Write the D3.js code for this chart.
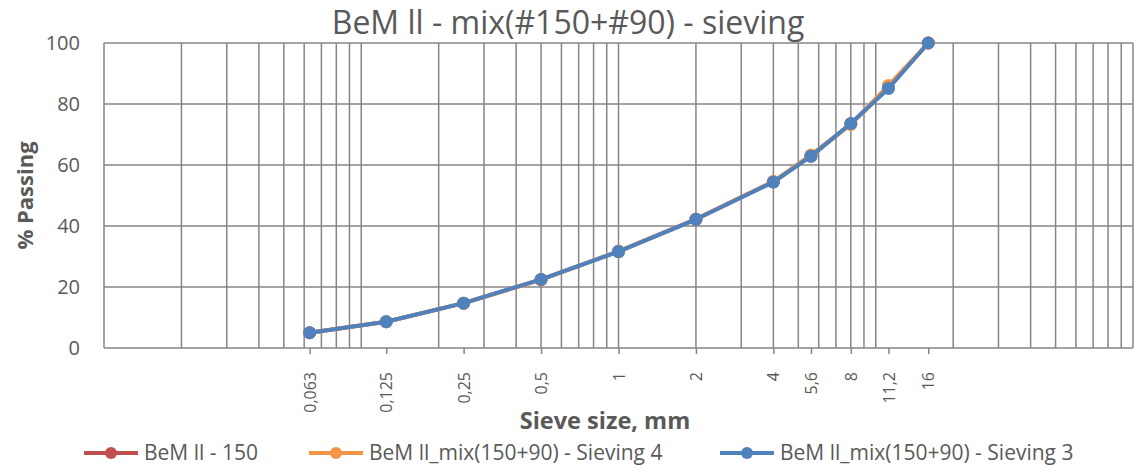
<!DOCTYPE html>
<html>
<head>
<meta charset="utf-8">
<script src="https://cdn.jsdelivr.net/npm/d3@7"></script>
<style>
  body { margin: 0; background: #fff; }
  text { font-family: "Open Sans", "Liberation Sans", sans-serif; fill: #595959; }
</style>
</head>
<body>
<div id="chart"></div>
<script>
// sieve sizes (mm) and their labels
const sieves = [0.063, 0.125, 0.25, 0.5, 1, 2, 4, 5.6, 8, 11.2, 16];
const sieveLabels = ['0,063', '0,125', '0,25', '0,5', '1', '2', '4', '5,6', '8', '11,2', '16'];

const seriesNames = ['BeM ll - 150', 'BeM ll_mix(150+90) - Sieving 4', 'BeM ll_mix(150+90) - Sieving 3'];
const bem150 = [5.0, 8.6, 14.7, 22.4, 31.7, 42.2, 54.5, 62.9, 73.5, 85.3, 100];
const sieving4 = [5.0, 8.6, 14.7, 22.4, 31.7, 42.3, 54.6, 63.3, 73.3, 86.1, 100];
const sieving3 = [5.0, 8.6, 14.7, 22.5, 31.6, 42.2, 54.4, 62.9, 73.6, 85.1, 100];
const colors = ['#c0504d', '#f79646', '#4f81bd'];

const yTicks = [0, 20, 40, 60, 80, 100];

const width = 1136;
const height = 468;
const margin = {left: 104, right: 3, top: 43, bottom: 120};

const svg = d3.select('#chart').append('svg')
  .attr('width', width)
  .attr('height', height);

const x = d3.scaleLog().domain([0.01, 100]).range([margin.left, width - margin.right]);
const y = d3.scaleLinear().domain([0, 100]).range([height - margin.bottom, margin.top]);

// log grid: 1..9 in each decade
var gridVals = [];
for (var e = -2; e < 2; e++) {
  for (var m = 1; m < 10; m++) gridVals.push(m * Math.pow(10, e));
}
gridVals.push(100);

const grid = svg.append('g').attr('stroke', '#868686').attr('stroke-width', 1.5);
grid.selectAll('.vg').data(gridVals).join('line')
  .attr('x1', d => x(d)).attr('x2', d => x(d))
  .attr('y1', y(0)).attr('y2', y(100));
grid.selectAll('.hg').data(yTicks).join('line')
  .attr('x1', x(0.01)).attr('x2', x(100))
  .attr('y1', d => y(d)).attr('y2', d => y(d));

// x axis with ticks at the sieve sizes only
const xAxis = svg.append('g')
  .attr('transform', 'translate(0,' + y(0) + ')')
  .call(d3.axisBottom(x).tickValues(sieves).tickSize(6)
    .tickFormat((d, i) => sieveLabels[i]));
xAxis.select('.domain').remove();
xAxis.selectAll('.tick line').attr('stroke', '#868686').attr('stroke-width', 1.5);
xAxis.selectAll('.tick text')
  .attr('transform', 'rotate(-90)')
  .attr('text-anchor', 'end')
  .attr('x', -24)
  .attr('y', 0)
  .attr('dy', '0.35em')
  .style('font-size', '16px');

const yAxis = svg.append('g')
  .attr('transform', 'translate(' + x(0.01) + ',0)')
  .call(d3.axisLeft(y).tickValues(yTicks).tickSize(0).tickPadding(24));
yAxis.select('.domain').remove();
yAxis.selectAll('.tick text').style('font-size', '20px');

// series
const line = d3.line().x(d => x(d[0])).y(d => y(d[1]));
[bem150, sieving4, sieving3].forEach(function(vals, i) {
  var pts = sieves.map((s, j) => [s, vals[j]]);
  var g = svg.append('g');
  g.append('path').datum(pts)
    .attr('d', line)
    .attr('fill', 'none')
    .attr('stroke', colors[i])
    .attr('stroke-width', 4)
    .attr('stroke-linejoin', 'round');
  g.selectAll('circle').data(pts).join('circle')
    .attr('cx', d => x(d[0])).attr('cy', d => y(d[1]))
    .attr('r', 6.5)
    .attr('fill', colors[i]);
});

// titles
svg.append('text')
  .attr('x', 568).attr('y', 34)
  .attr('text-anchor', 'middle')
  .style('font-size', '32px')
  .text('BeM ll - mix(#150+#90) - sieving');

svg.append('text')
  .attr('transform', 'translate(33,' + (y(50)) + ') rotate(-90)')
  .attr('text-anchor', 'middle')
  .style('font-size', '22px')
  .style('font-weight', 'bold')
  .text('% Passing');

svg.append('text')
  .attr('x', 605).attr('y', 429)
  .attr('text-anchor', 'middle')
  .style('font-size', '23.5px')
  .style('font-weight', 'bold')
  .text('Sieve size, mm');

// legend
const legendX = [84, 309, 720];
const legend = svg.append('g').attr('transform', 'translate(0,453)');
seriesNames.forEach(function(name, i) {
  var g = legend.append('g').attr('transform', 'translate(' + legendX[i] + ',0)');
  g.append('line').attr('x1', 0).attr('x2', 54)
    .attr('stroke', colors[i]).attr('stroke-width', 4);
  g.append('circle').attr('cx', 27).attr('r', 6).attr('fill', colors[i]);
  g.append('text').attr('x', 60).attr('dy', '0.35em')
    .style('font-size', '21px')
    .text(name);
});
</script>
</body>
</html>
